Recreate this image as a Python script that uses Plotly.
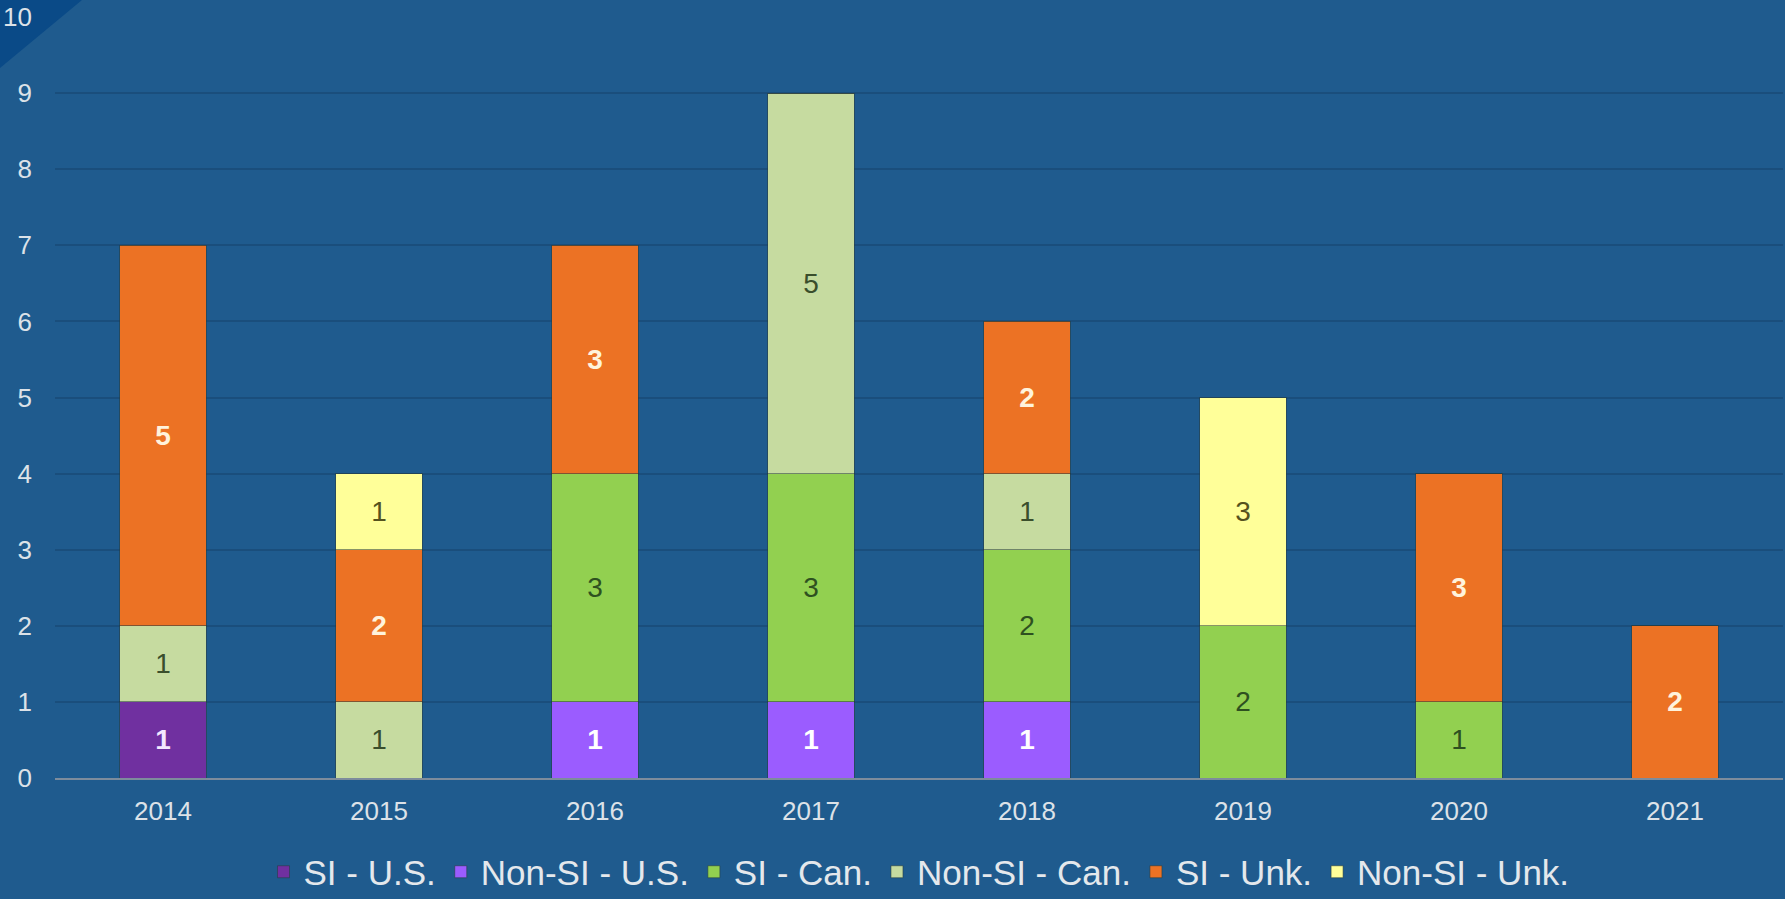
import plotly.graph_objects as go

years = ["2014", "2015", "2016", "2017", "2018", "2019", "2020", "2021"]
si_us = [1, 0, 0, 0, 0, 0, 0, 0]
non_si_us = [0, 0, 1, 1, 1, 0, 0, 0]
si_can = [0, 0, 3, 3, 2, 2, 1, 0]
non_si_can = [1, 1, 0, 5, 1, 0, 0, 0]
si_unk = [5, 2, 3, 0, 2, 0, 3, 2]
non_si_unk = [0, 1, 0, 0, 0, 3, 0, 0]
y_ticks = [0, 1, 2, 3, 4, 5, 6, 7, 8, 9, 10]

series = [
    ("SI - U.S.", si_us, "#7030A0", "#F4E8FF", True),
    ("Non-SI - U.S.", non_si_us, "#9B5CFF", "#FFFFFF", True),
    ("SI - Can.", si_can, "#92D050", "#2E5020", False),
    ("Non-SI - Can.", non_si_can, "#C6DBA0", "#3A4E2C", False),
    ("SI - Unk.", si_unk, "#EC7224", "#FFF3DC", True),
    ("Non-SI - Unk.", non_si_unk, "#FFFF99", "#55521E", False),
]

FONT = "Liberation Sans Narrow, Arial Narrow, Liberation Sans, Arial, sans-serif"
BG = "#1F5B8E"

fig = go.Figure()
for name, vals, color, tcolor, bold in series:
    labels = [str(v) if v else "" for v in vals]
    fig.add_trace(go.Bar(
        name=name, x=years, y=vals,
        marker=dict(color=color, line=dict(color="rgba(40,60,60,0.55)", width=1)),
        text=labels, textposition="inside", insidetextanchor="middle",
        textangle=0, constraintext="none",
        textfont=dict(family=FONT, size=28, color=tcolor,
                      weight="bold" if bold else "normal"),
        hoverinfo="skip",
    ))

L, R, T, B = 55, 2, 17, 121
W, H = 1785, 899
pw, ph = W - L - R, H - T - B

def px(x):
    return (x - L) / pw

def py(y):
    return (H - B - y) / ph

fig.add_shape(type="path",
              path=f"M {px(0)},{py(0)} L {px(82)},{py(0)} L {px(0)},{py(68)} Z",
              xref="paper", yref="paper", fillcolor="#0A4A87",
              line=dict(width=0), layer="below")

fig.update_layout(
    width=W, height=H,
    barmode="stack", bargap=0.6,
    paper_bgcolor=BG, plot_bgcolor=BG,
    margin=dict(l=L, r=R, t=T, b=B, pad=0, autoexpand=False),
    font=dict(family=FONT, color="#DCE2E8"),
    showlegend=True,
    legend=dict(orientation="h", x=0.5, xanchor="center", y=py(872), yanchor="middle",
                font=dict(family=FONT, size=35, color="#E4E8EC"),
                bgcolor="rgba(0,0,0,0)", traceorder="normal",
                itemwidth=30, tracegroupgap=0),
    xaxis=dict(showgrid=False, tickfont=dict(size=26, color="#DCE2E8"),
               showline=True, linecolor="#7D8C9C", linewidth=2,
               ticks="", ticklabelstandoff=9, fixedrange=True),
    yaxis=dict(range=[0, 10], tickvals=y_ticks, showgrid=True,
               gridcolor="#1A4E7C", gridwidth=2, zeroline=False,
               tickfont=dict(size=26, color="#DCE2E8"),
               ticks="", ticklabelstandoff=22, fixedrange=True),
)

post = ("document.body.style.margin='0';document.body.style.padding='0';"
        "document.body.style.overflow='hidden';"
        "document.documentElement.style.background='#1F5B8E';"
        "document.body.style.background='#1F5B8E';")

fig.write_html("out.html", post_script=post, config={"displayModeBar": False})
